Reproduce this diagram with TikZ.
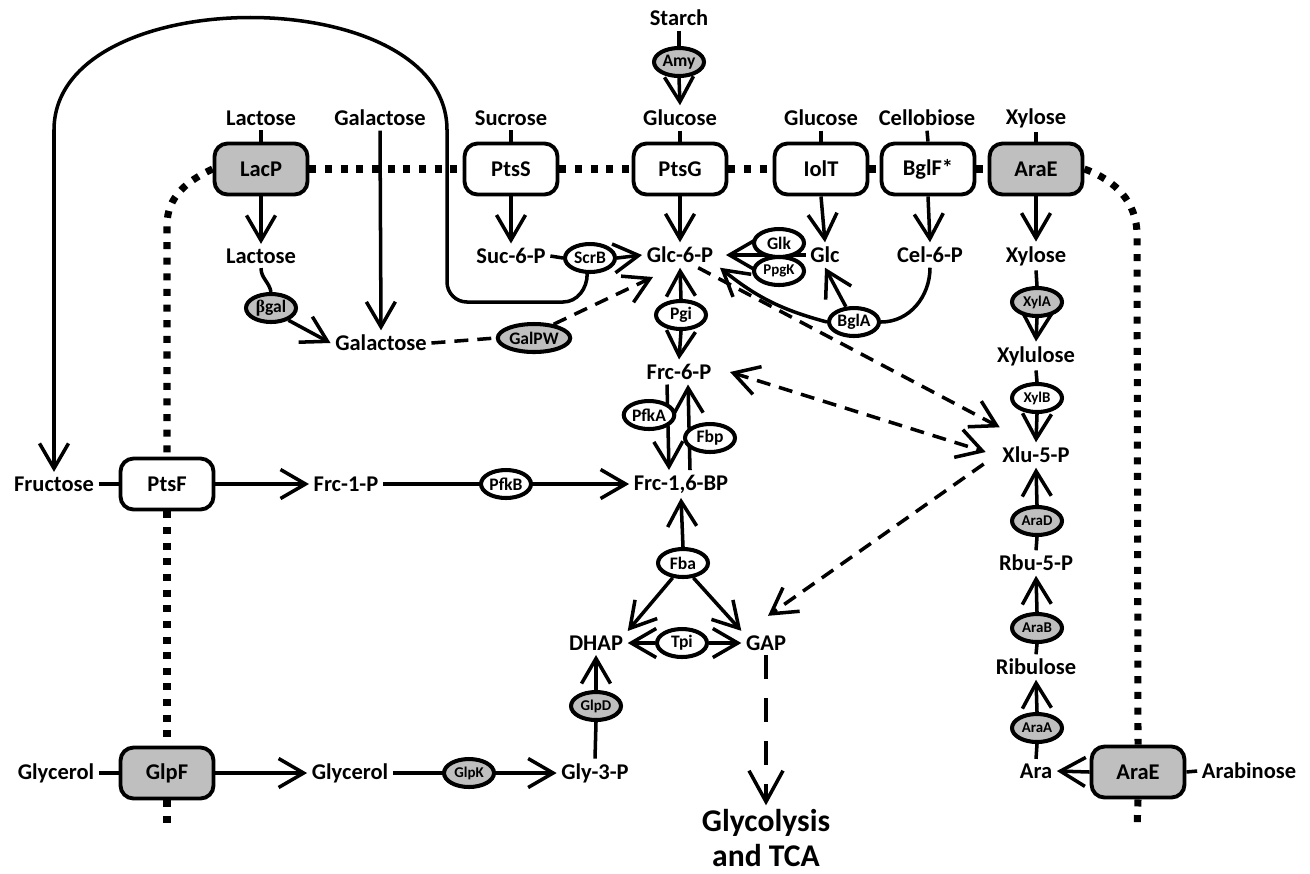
\documentclass[tikz,border=0pt]{standalone}
\usepackage{fontspec}
\setmainfont{Carlito}
\newfontfamily\greekfont{Liberation Serif}
\usetikzlibrary{arrows.meta,shapes.geometric}

\begin{document}
\begin{tikzpicture}[x=0.02cm,y=0.02cm,
    met/.style={font=\bfseries\fontsize{12.8}{14}\selectfont,inner sep=2.5pt},
    porter/.style={draw,line width=2.2pt,rounded corners=0.26cm,fill=white,minimum width=1.86cm,minimum height=1.02cm,font=\bfseries\fontsize{12.8}{14}\selectfont},
    porterg/.style={porter,fill=gray!50},
    enz/.style={ellipse,draw,line width=2.3pt,fill=white,inner sep=0.5pt,minimum width=1.0cm,minimum height=0.56cm,font=\bfseries\fontsize{10}{11}\selectfont},
    enzg/.style={enz,fill=gray!50},
    enzs/.style={enz,font=\bfseries\fontsize{8.5}{10}\selectfont},
    enzsg/.style={enzs,fill=gray!50},
    link/.style={line width=2pt},
    tip/.tip={Straight Barb[length=0.5cm,width=0.58cm]},
    rxn/.style={link,-tip},
    flux/.style={rxn,dash pattern=on 0.28cm off 0.18cm},
    membrane/.style={line width=4pt,dash pattern=on 4pt off 4.9pt}]
    \useasboundingbox (0,0) rectangle (1310,-873);

    % Outside sugars
    \node[met] (starch) at (679,-18) {Starch};
    \node[enzg] (amy) at (679,-62) {Amy};
    \node[met] (lacE) at (261,-118) {Lactose};
    \node[met] (galE) at (380,-118) {Galactose};
    \node[met] (sucE) at (511,-118) {Sucrose};
    \node[met] (glcE) at (680,-118) {Glucose};
    \node[met] (glcE2) at (821,-118) {Glucose};
    \node[met] (celE) at (927,-118) {Cellobiose};
    \node[met] (xylE) at (1036,-118) {Xylose};

    % Transporters
    \node[porterg] (lacP) at (261,-169) {LacP};
    \node[porter] (ptsS) at (511,-169) {PtsS};
    \node[porter] (ptsG) at (680,-169) {PtsG};
    \node[porter] (iolT) at (821,-169) {IolT};
    \node[porter] (bglF) at (928,-169) {BglF*};
    \node[porterg] (araE) at (1036,-169) {AraE};
    \node[porter] (ptsF) at (167,-484) {PtsF};
    \node[porterg] (glpF) at (167,-773) {GlpF};
    \node[porterg] (araE2) at (1138,-772) {AraE};

    % Membrane
    \draw[membrane] (lacP.east) -- (ptsS.west);
    \draw[membrane] (ptsS.east) -- (ptsG.west);
    \draw[membrane] (ptsG.east) -- (iolT.west);
    \draw[membrane] (iolT.east) -- (bglF.west);
    \draw[membrane] (bglF.east) -- (araE.west);
    \draw[membrane] (lacP.west) to[out=205,in=90] (167,-225) -- (ptsF.north);
    \draw[membrane] (ptsF.south) -- (glpF.north);
    \draw[membrane] (glpF.south) -- (167,-830);
    \draw[membrane] (araE.east) to[out=-20,in=90] (1137,-235) -- (araE2.north);
    \draw[membrane] (araE2.south) -- (1137,-830);

    % Inside metabolites
    \node[met] (lac) at (261,-256) {Lactose};
    \node[met] (galI) at (381,-343) {Galactose};
    \node[met] (suc6p) at (511,-256) {Suc-6-P};
    \node[met] (glc6p) at (680,-255) {Glc-6-P};
    \node[met] (glc) at (825,-255) {Glc};
    \node[met] (cel6p) at (930,-255) {Cel-6-P};
    \node[met] (frc6p) at (679,-372) {Frc-6-P};
    \node[met] (fru) at (54,-484) {Fructose};
    \node[met] (frc1p) at (346,-484) {Frc-1-P};
    \node[met] (frc16bp) at (681,-484) {Frc-1,6-BP};
    \node[met] (dhap) at (596,-643) {DHAP};
    \node[met] (gap) at (766,-643) {GAP};
    \node[met] (glyE) at (56,-773) {Glycerol};
    \node[met] (glyI) at (350,-773) {Glycerol};
    \node[met] (gly3p) at (595,-773) {Gly-3-P};
    \node[met] (xyl) at (1036,-256) {Xylose};
    \node[met] (xylu) at (1036,-356) {Xylulose};
    \node[met] (xlu5p) at (1036,-455) {Xlu-5-P};
    \node[met] (rbu5p) at (1036,-563) {Rbu-5-P};
    \node[met] (ribu) at (1036,-667) {Ribulose};
    \node[met] (ara) at (1036,-771) {Ara};
    \node[met] (arab) at (1249,-771) {Arabinose};
    \node[font=\bfseries\fontsize{18}{19.5}\selectfont,align=center,inner sep=0pt] (glyco) at (766,-838) {Glycolysis\\and TCA};

    % Uptake
    \draw[link] (starch.south) -- (amy.north);
    \draw[rxn] (amy.south) -- (glcE.north);
    \draw[link] (lacE.south) -- (lacP.north);
    \draw[link] (sucE.south) -- (ptsS.north);
    \draw[link] (glcE.south) -- (ptsG.north);
    \draw[link] (glcE2.south) -- (iolT.north);
    \draw[link] (celE.south) -- (bglF.north);
    \draw[link] (xylE.south) -- (araE.north);
    \draw[rxn] (galE.south) -- (galI.north);
    \draw[rxn] (lacP.south) -- (lac.north);
    \draw[rxn] (ptsS.south) -- (suc6p.north);
    \draw[rxn] (ptsG.south) -- (glc6p.north);
    \draw[rxn] (iolT.south) -- (glc.north);
    \draw[rxn] (bglF.south) -- (cel6p.north);
    \draw[rxn] (araE.south) -- (xyl.north);
    \draw[link] (fru.east) -- (ptsF.west);
    \draw[rxn] (ptsF.east) -- (frc1p.west);
    \draw[link] (glyE.east) -- (glpF.west);
    \draw[rxn] (glpF.east) -- (glyI.west);
    \draw[link] (arab.west) -- (araE2.east);
    \draw[rxn] (araE2.west) -- (ara.east);

    % Lactose and galactose
    \node[enzg] (bgal) at (271,-308) {{\greekfont β}gal};
    \node[enzg] (galPW) at (534,-338) {GalPW};
    \draw[link] (lac.south) to[out=-90,in=100] (bgal.north);
    \draw[rxn] (bgal.-35) -- (galI.west);
    \draw[link,dash pattern=on 0.28cm off 0.18cm] (galI.east) -- (galPW.west);
    \draw[flux] (galPW.35) -- ([shift={(-27,-22)}]glc6p.center);

    % Sucrose
    \node[enz] (scrB) at (590,-258) {ScrB};
    \draw[link] (suc6p.east) -- (scrB.west);
    \draw[rxn] (scrB.east) -- (glc6p.west);
    \draw[rxn] (scrB.-100) to[out=-90,in=0] (563,-302) -- (467,-302) to[out=180,in=-90] (447,-282) -- (447,-130)
        .. controls (447,20) and (54,20) .. (54,-130) -- (fru.north);

    % Glucose and cellobiose
    \draw[rxn] (glc.west) -- ([shift={(8,0)}]glc6p.east);
    \node[enz] (glk) at (779,-243) {Glk};
    \node[enzs] (ppgK) at (779,-271) {PpgK};
    \node[enz] (bglA) at (854,-322) {BglA};
    \draw[link] (cel6p.south) to[out=-90,in=0] (bglA.east);
    \draw[rxn] (bglA.118) -- (glc.south);
    \draw[rxn] (bglA.west) to[bend left=12] ([shift={(2,0)}]glc6p.south east);

    % Glycolysis
    \node[enz] (pgi) at (681,-315) {Pgi};
    \draw[rxn] (pgi.north) -- (glc6p.south);
    \draw[rxn] (pgi.south) -- (frc6p.north);
    \draw[rxn] ([shift={(-12,0)}]frc6p.south) -- ([shift={(-12,0)}]frc16bp.north);
    \draw[rxn] ([shift={(9,0)}]frc16bp.north) -- ([shift={(9,0)}]frc6p.south);
    \node[enz] (pfkA) at (649,-415) {PfkA};
    \node[enz] (fbp) at (710,-438) {Fbp};
    \draw[rxn] (frc1p.east) -- (frc16bp.west);
    \node[enz] (pfkB) at (506,-484) {PfkB};
    \node[enz] (fba) at (683,-563) {Fba};
    \draw[rxn] (fba.north) -- (frc16bp.south);
    \draw[rxn] (fba.-125) -- (dhap.north east);
    \draw[rxn] (fba.-55) -- (gap.north west);
    \node[enz] (tpi) at (682,-643) {Tpi};
    \draw[rxn] (tpi.west) -- (dhap.east);
    \draw[rxn] (tpi.east) -- (gap.west);
    \draw[link,dash pattern=on 0.48cm off 0.38cm,line width=2.8pt,-{Straight Barb[length=0.62cm,width=0.68cm,line width=2pt]}] (gap.south) -- ([shift={(0,4)}]glyco.north);

    % Glycerol
    \draw[rxn] (glyI.east) -- (gly3p.west);
    \node[enzsg] (glpK) at (469,-773) {GlpK};
    \node[enzsg] (glpD) at (596,-706) {GlpD};
    \draw[link] (gly3p.north) -- (glpD.south);
    \draw[rxn] (glpD.north) -- (dhap.south);

    % Xylose and arabinose
    \node[enzsg] (xylA) at (1037,-302) {XylA};
    \node[enzs] (xylB) at (1037,-398) {XylB};
    \node[enzsg] (araD) at (1037,-521) {AraD};
    \node[enzsg] (araB) at (1037,-628) {AraB};
    \node[enzsg] (araA) at (1037,-728) {AraA};
    \draw[link] (xyl.south) -- (xylA.north);
    \draw[rxn] (xylA.south) -- (xylu.north);
    \draw[link] (xylu.south) -- (xylB.north);
    \draw[rxn] (xylB.south) -- (xlu5p.north);
    \draw[rxn] (araD.north) -- (xlu5p.south);
    \draw[link] (rbu5p.north) -- (araD.south);
    \draw[rxn] (araB.north) -- (rbu5p.south);
    \draw[link] (ribu.north) -- (araB.south);
    \draw[rxn] (araA.north) -- (ribu.south);
    \draw[link] (ara.north) -- (araA.south);

    % Pentose phosphate links
    \draw[flux] (glc6p.-35) -- ([shift={(2,15)}]xlu5p.north west);
    \draw[flux,tip-tip] ([shift={(14,0)}]frc6p.east) -- ([shift={(-12,3)}]xlu5p.west);
    \draw[flux] ([shift={(-14,-9)}]xlu5p.west) -- ([shift={(2,15)}]gap.north);
\end{tikzpicture}
\end{document}
